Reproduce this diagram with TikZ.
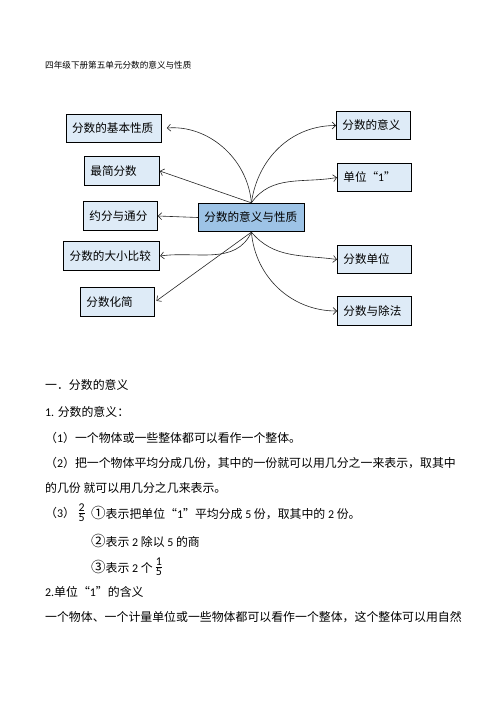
\documentclass[tikz,border=0pt]{standalone}
\usepackage{fontspec}
\setmainfont{Noto Sans CJK SC}
\newfontfamily\latf{Carlito}
\usetikzlibrary{arrows.meta}
\definecolor{lightbox}{HTML}{DEEBF7}
\definecolor{darkbox}{HTML}{9DC3E6}
\newcommand\dg[1]{{\latf #1}}
\newcommand\cn[1]{{\fontsize{14.5bp}{14bp}\selectfont #1}}
\begin{document}
\begin{tikzpicture}[x=1bp,y=-1bp,
  box/.style={draw=black, line width=0.8bp, fill=lightbox, minimum height=28.5bp,
    inner xsep=6bp, inner ysep=0pt, anchor=west, align=left,
    font=\fontsize{11.6bp}{13bp}\selectfont},
  conn/.style={draw=black!85, line width=0.6bp, -{Straight Barb[length=3.5bp,width=7bp]}},
  txt/.style={anchor=west, inner sep=0pt, font=\fontsize{11.9bp}{14bp}\selectfont}]
\fill[white] (0,0) rectangle (496,702);
\useasboundingbox (0,0) rectangle (496,702);

% title
\node[anchor=west, inner sep=0pt, font=\fontsize{8.6bp}{10bp}\selectfont] (title) at (45,65) {四年级下册第五单元分数的意义与性质};

% boxes
\node[box, fill=darkbox, text width=94bp] (c) at (198,217.5) {分数的意义与性质};
\node[box, text width=83.3bp] (jb) at (65.7,128.5) {分数的基本性质};
\node[box, text width=63bp] (zj) at (84,171) {最简分数};
\node[box, text width=62bp] (yf) at (83,216) {约分与通分};
\node[box, text width=84bp] (dx) at (63.3,256) {分数的大小比较};
\node[box, text width=62bp] (hz) at (80,302) {分数化简};
\node[box, text width=62bp] (yy) at (336,125.5) {分数的意义};
\node[box, text width=62bp] (dw) at (337,177.5) {单位“\dg{1}”};
\node[box, text width=62bp] (fd) at (337,259.5) {分数单位};
\node[box, text width=62bp] (cf) at (337,311) {分数与除法};

% connectors
\draw[conn, shorten >=5bp] (c.north) to[out=95,in=5] (jb.east);
\draw[conn] (c.north) -- (zj.east);
\draw[conn] (c.west) -- (yf.east);
\draw[conn] (c.south) to[out=245,in=8] (dx.east);
\draw[conn, shorten >=2bp] (c.south) -- (hz.east);
\draw[conn] (c.north) to[out=82,in=180] (yy.west);
\draw[conn] (c.north) to[out=55,in=190] (dw.west);
\draw[conn] (c.south) to[out=-50,in=172] (fd.west);
\draw[conn] (c.south) to[out=-85,in=180] (cf.west);

% text body
\node[txt] (t1) at (45,385) {一．分数的意义};
\node[txt] (t2) at (45,412) {\dg{1.} 分数的意义：};
\node[txt] (t3) at (45,438) {（\dg{1}）一个物体或一些整体都可以看作一个整体。};
\node[txt] (t4) at (45,463) {（\dg{2}）把一个物体平均分成几份，其中的一份就可以用几分之一来表示，取其中};
\node[txt] (t5) at (45,488) {的几份\ 就可以用几分之几来表示。};
\node[txt] (t6) at (45,513) {（\dg{3}）};
\node[txt] (f1) at ([xshift=2bp]t6.east) {$\frac{\mbox{\dg{2}}}{\mbox{\dg{5}}}$};
\node[txt] (t6b) at (91,513) {\cn{①}表示把单位“\dg{1}”平均分成 \dg{5} 份，取其中的 \dg{2} 份。};
\node[txt] (t7) at (91,541) {\cn{②}表示 \dg{2} 除以 \dg{5} 的商};
\node[txt] (t8) at (91,567) {\cn{③}表示 \dg{2} 个};
\node[txt] (f2) at ([xshift=1.5bp]t8.east) {$\frac{\mbox{\dg{1}}}{\mbox{\dg{5}}}$};
\node[txt] (t9) at (45,592) {\dg{2.}单位“\dg{1}”的含义};
\node[txt] (t10) at (45,617) {一个物体、一个计量单位或一些物体都可以看作一个整体，这个整体可以用自然};
\end{tikzpicture}
\end{document}
